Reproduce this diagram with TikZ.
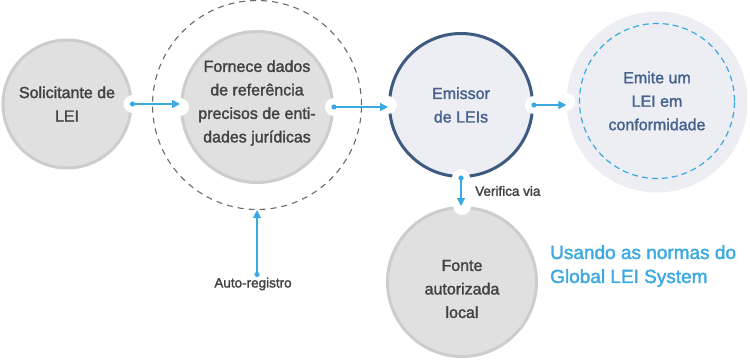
\documentclass[tikz,border=0pt]{standalone}
\usepackage{fontspec}
\setmainfont{Liberation Sans}[UprightFeatures={FakeBold=1.8}]
\usetikzlibrary{arrows.meta}
\definecolor{grayfill}{HTML}{E0E0E0}
\definecolor{grayline}{HTML}{CDCDCD}
\definecolor{txtgray}{HTML}{424242}
\definecolor{arrowblue}{HTML}{3BA9E1}
\definecolor{navy}{HTML}{3D5A80}
\definecolor{navytext}{HTML}{47628C}
\definecolor{palefill}{HTML}{ECEEF4}
\definecolor{ringgray}{HTML}{6A6A6A}
\begin{document}
\begin{tikzpicture}[x=1pt,y=-1pt,
  circtext/.style={circle, inner sep=0pt, align=center, font=\fontsize{16}{23.5}\selectfont},
  graycircle/.style={circtext, fill=grayfill, draw=grayline, line width=3pt, text=txtgray},
  emissorbox/.style={circtext, fill=palefill, draw=navy, line width=3pt, text=navytext},
  emitebg/.style={circle, inner sep=0pt, fill=palefill},
  dashblue/.style={circtext, draw=arrowblue, line width=1.2pt, dash pattern=on 6pt off 4pt, text=navytext},
  dashring/.style={circle, inner sep=0pt, draw=ringgray, line width=1.1pt, dash pattern=on 6pt off 5pt},
  lbl/.style={font=\fontsize{13.5}{15}\selectfont, text=txtgray, inner sep=3pt},
  halo/.style={fill=white},
  dotc/.style={fill=arrowblue},
  conn/.style={draw=arrowblue, line width=1.3pt, -{Triangle[length=8pt,width=8pt]}}
]
\useasboundingbox (0,0) rectangle (750,361);
\node[graycircle, minimum size=128pt] (sol) at (67,104) {Solicitante de\\LEI};
\node[dashring, minimum size=209pt] (ring) at (257,105) {};
\node[graycircle, minimum size=151pt] (forn) at (257,107) {};
\node[circtext, text=txtgray] (forntxt) at (257,103) {Fornece dados\\de referência\\precisos de enti-\\dades jurídicas};
\node[emissorbox, minimum size=143pt] (emi) at (461,105) {Emissor\\de LEIs};
\node[emitebg, minimum size=181pt] (emite) at (657,102) {};
\node[dashblue, minimum size=155pt] (emitein) at (657,101) {Emite um\\LEI em\\conformidade};
\node[graycircle, minimum size=149pt] (fonte) at (462,282) {};
\node[circtext, text=txtgray] (fontetxt) at (462,289) {Fonte\\autorizada\\local};
\foreach \p in {sol.east, forn.west, forn.east, emi.west, emi.east, emite.west, emi.south, fonte.north}
  \fill[halo] (\p) circle (9pt);
\node[lbl] (auto) at (253,284) {Auto-registro};
\node[lbl, anchor=west] (ver) at (472,191) {Verifica via};
\node[font=\fontsize{19}{24}\selectfont, text=arrowblue, align=left, anchor=north west, inner sep=0pt] (usando) at (550,245) {Usando as normas do\\Global LEI System};
\draw[conn] (sol.east) -- (sol.east -| forn.west);
\draw[conn] (forn.east) -- (forn.east -| emi.west);
\draw[conn] (emi.east) -- (emi.east -| emite.west);
\draw[conn] (emi.south) -- (emi.south |- fonte.north);
\draw[conn] (auto.north -| ring.south) -- (ring.south);
\foreach \p in {sol.east, forn.east, emi.east, emi.south}
  \fill[dotc] (\p) circle (2.6pt);
\fill[dotc] (auto.north -| ring.south) circle (2.6pt);
\end{tikzpicture}
\end{document}
